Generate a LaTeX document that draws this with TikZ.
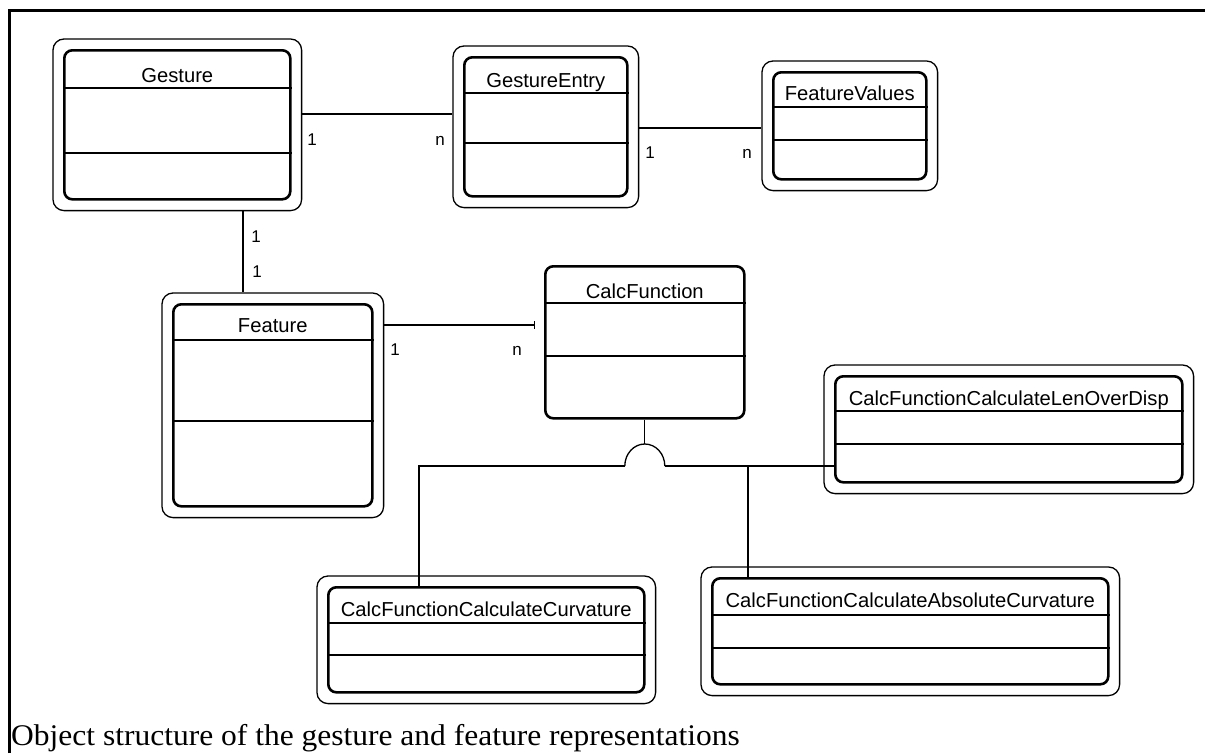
\documentclass[tikz,border=0pt]{standalone}
\usepackage{fontspec}
\setmainfont{Liberation Serif}
\setsansfont{Liberation Sans}
\usetikzlibrary{positioning,fit,arrows.meta}
\tikzset{
  classbox/.style={draw, line width=2.6pt, rounded corners=8pt, inner sep=0pt, anchor=north west},
  outerbox/.style={draw, line width=1.3pt, rounded corners=11pt, inner sep=10pt},
  divider/.style={line width=1.3pt},
  conn/.style={line width=1.3pt},
  classname/.style={font=\sffamily\fontsize{20.2}{23}\selectfont, inner sep=0pt, anchor=base},
  mult/.style={font=\sffamily\fontsize{17}{20}\selectfont, inner sep=0pt, anchor=base},
}
\begin{document}
\begin{tikzpicture}[x=1pt,y=-1pt]
\useasboundingbox (0,0) rectangle (1205,753);
% cell frame
\draw[line width=3pt] (9,753) -- (9,10) -- (1205,10);

% classes
\node[classbox, minimum width=226pt, minimum height=149pt] (gesture) at (63,49) {};
\node[outerbox, fit=(gesture)] (gesture-o) {};
\node[classname] (gesture-t) at (gesture.north |- 0,82) {Gesture};
\draw[divider] (gesture.west |- 0,88) -- (gesture.east |- 0,88);
\draw[divider] (gesture.west |- 0,153) -- (gesture.east |- 0,153);

\node[classbox, minimum width=163pt, minimum height=139pt] (entry) at (463,56) {};
\node[outerbox, fit=(entry)] (entry-o) {};
\node[classname] (entry-t) at (entry.north |- 0,87) {GestureEntry};
\draw[line width=2.6pt] (entry.west |- 0,93) -- (entry.east |- 0,93);
\draw[divider] (entry.west |- 0,143) -- (entry.east |- 0,143);

\node[classbox, minimum width=153pt, minimum height=107pt] (values) at (772,71) {};
\node[outerbox, fit=(values)] (values-o) {};
\node[classname] (values-t) at (values.north |- 0,100) {FeatureValues};
\draw[divider] (values.west |- 0,107) -- (values.east |- 0,107);
\draw[divider] (values.west |- 0,140) -- (values.east |- 0,140);

\node[classbox, minimum width=199pt, minimum height=202pt] (feature) at (172,303) {};
\node[outerbox, fit=(feature)] (feature-o) {};
\node[classname] (feature-t) at (feature.north |- 0,332) {Feature};
\draw[divider] (feature.west |- 0,340) -- (feature.east |- 0,340);
\draw[divider] (feature.west |- 0,421) -- (feature.east |- 0,421);

\node[classbox, minimum width=199pt, minimum height=152pt] (calc) at (544,265) {};
\node[classname] (calc-t) at (calc.north |- 0,298) {CalcFunction};
\draw[divider] (calc.west |- 0,303) -- (calc.east |- 0,303);
\draw[divider] (calc.west |- 0,356) -- (calc.east |- 0,356);

\node[classbox, minimum width=347pt, minimum height=106pt] (lenover) at (834,375) {};
\node[outerbox, fit=(lenover)] (lenover-o) {};
\node[classname] (lenover-t) at (lenover.north |- 0,405) {CalcFunctionCalculateLenOverDisp};
\draw[divider] (lenover.west |- 0,411) -- (lenover.east |- 0,411);
\draw[divider] (lenover.west |- 0,444) -- (lenover.east |- 0,444);

\node[classbox, minimum width=316pt, minimum height=105pt] (curv) at (327,586) {};
\node[outerbox, fit=(curv)] (curv-o) {};
\node[classname] (curv-t) at (curv.north |- 0,616) {CalcFunctionCalculateCurvature};
\draw[divider] (curv.west |- 0,623) -- (curv.east |- 0,623);
\draw[divider] (curv.west |- 0,655) -- (curv.east |- 0,655);

\node[classbox, minimum width=396pt, minimum height=106pt] (abscurv) at (711,577) {};
\node[outerbox, fit=(abscurv)] (abscurv-o) {};
\node[classname] (abscurv-t) at (abscurv.north |- 0,607) {CalcFunctionCalculateAbsoluteCurvature};
\draw[divider] (abscurv.west |- 0,615) -- (abscurv.east |- 0,615);
\draw[divider] (abscurv.west |- 0,648) -- (abscurv.east |- 0,648);

% associations
\draw[line width=2.6pt] (gesture-o.east |- 0,114) -- (entry-o.west |- 0,114);
\node[mult] (m1) at (312,145) {1};
\node[mult] (m2) at (440,145) {n};
\draw[conn] (entry-o.east |- 0,128) -- (values-o.west |- 0,128);
\node[mult] (m3) at (650,158) {1};
\node[mult] (m4) at (747,158) {n};
\draw[conn] (gesture-o.south -| 243,0) -- (feature-o.north -| 243,0);
\node[mult] (m5) at (256,242) {1};
\node[mult] (m6) at (257,277) {1};
\draw[conn, -{Bar[width=8pt]}, shorten >=9pt] (feature-o.east |- 0,325) -- (calc.west |- 0,325);
\node[mult] (m7) at (395,355) {1};
\node[mult] (m8) at (517,355) {n};

% generalization
\coordinate (gen) at (calc.south |- 0,466);
\coordinate (left) at (419,466);
\coordinate (mid) at (748,466);
\draw[conn] (calc.south) -- ([yshift=22pt]gen);
\draw[conn] ([xshift=-20pt]gen) arc[start angle=180, end angle=0, x radius=20pt, y radius=22pt];
\draw[conn] (curv.north -| left) -- (left) -- ([xshift=-20pt]gen);
\draw[conn] ([xshift=20pt]gen) -- (lenover.west |- gen);
\draw[conn] (abscurv.north -| mid) -- (mid);

% caption
\node[font=\fontsize{30}{34}\selectfont, inner sep=0pt, anchor=base west, xscale=1.05, transform shape] (caption) at (11,745) {Object structure of the gesture and feature representations};
\end{tikzpicture}
\end{document}
